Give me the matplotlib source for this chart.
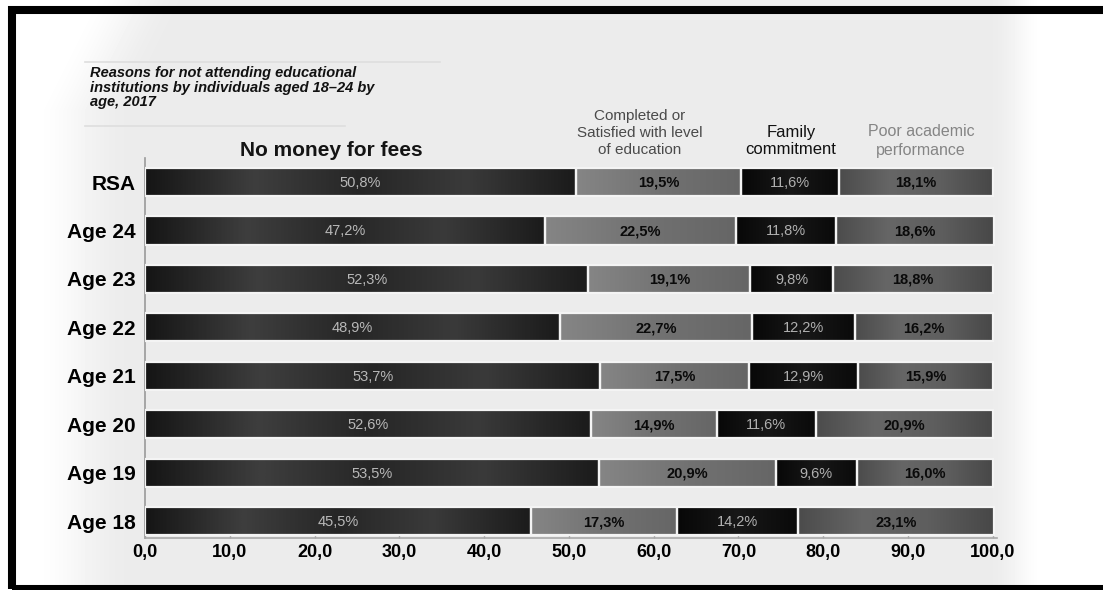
import numpy as np
import matplotlib.pyplot as plt
from matplotlib.patches import Rectangle
from matplotlib.colors import LinearSegmentedColormap

# Reasons for not attending educational institutions, share of 18-24 year olds (%)
categories = ['RSA', 'Age 24', 'Age 23', 'Age 22', 'Age 21', 'Age 20', 'Age 19', 'Age 18']
no_money = [50.8, 47.2, 52.3, 48.9, 53.7, 52.6, 53.5, 45.5]
completed = [19.5, 22.5, 19.1, 22.7, 17.5, 14.9, 20.9, 17.3]
family = [11.6, 11.8, 9.8, 12.2, 12.9, 11.6, 9.6, 14.2]
poor_academic = [18.1, 18.6, 18.8, 16.2, 15.9, 20.9, 16.0, 23.1]
xticks = [0, 10, 20, 30, 40, 50, 60, 70, 80, 90, 100]

title = 'Reasons for not attending educational\ninstitutions by individuals aged 18\u201324 by\nage, 2017'

NARROW = ['Liberation Sans Narrow', 'Liberation Sans', 'DejaVu Sans']
plt.rcParams['font.family'] = ['Liberation Sans', 'DejaVu Sans']

# shading profile (left -> right), label colour and weight for each reason
styles = [
    dict(values=no_money, shade=['#161616', '#3e3e3e', '#262626', '#3a3a3a', '#1c1c1c'],
         tc='#b8b8b8', weight='normal'),
    dict(values=completed, shade=['#858585', '#727272', '#666666'],
         tc='#0a0a0a', weight='bold'),
    dict(values=family, shade=['#080808', '#181818', '#0a0a0a'],
         tc='#b0b0b0', weight='normal'),
    dict(values=poor_academic, shade=['#4c4c4c', '#666666', '#5e5e5e', '#484848'],
         tc='#0a0a0a', weight='bold'),
]


def pct(v):
    return f'{v:.1f}'.replace('.', ',') + '%'


fig = plt.figure(figsize=(11.03, 5.90), dpi=100)

# soft grey panel on white
W, H = 1103, 590
xx = np.arange(W) + 0.5
yy = np.arange(H) + 0.5
X, Y = np.meshgrid(xx, yy)


def smooth(t):
    t = np.clip(t, 0, 1)
    return t * t * (3 - 2 * t)


left_edge = 30 + np.clip(110 - Y, 0, None) * 0.5
mask = smooth((X - left_edge) / 100) * smooth((1045 - X) / 55)
bg = 1 - 0.075 * mask
bg_ax = fig.add_axes([0, 0, 1, 1], zorder=0)
bg_ax.imshow(bg, cmap='gray', vmin=0, vmax=1, extent=(0, 1, 0, 1), aspect='auto',
             interpolation='bilinear')
bg_ax.set_axis_off()

ax = fig.add_axes([145 / W, 1 - 538 / H, 852 / W, 380 / H], zorder=1)
ax.set_facecolor('none')

ypos = np.arange(len(categories))
left = np.zeros(len(categories))
bar_h = 0.58
for st in styles:
    vals = np.array(st['values'])
    bars = ax.barh(ypos, vals, left=left, height=bar_h, color=st['shade'][1],
                   edgecolor='#f4f4f4', linewidth=1.6, zorder=2)
    cmap = LinearSegmentedColormap.from_list('shade', st['shade'])
    grad = np.linspace(0, 1, 64).reshape(1, -1)
    for b, v in zip(bars, vals):
        x0, y0 = b.get_x(), b.get_y()
        im = ax.imshow(grad, cmap=cmap, aspect='auto', interpolation='bicubic',
                       extent=(x0, x0 + b.get_width(), y0 + b.get_height(), y0),
                       zorder=2.5)
        im.set_clip_path(b)
        ax.text(x0 + b.get_width() / 2, b.get_y() + b.get_height() / 2 + 0.02, pct(v),
                ha='center', va='center', fontsize=10.5, color=st['tc'],
                fontweight=st['weight'], family=NARROW, zorder=4)
        # thin light rim drawn on top of the gradient
        ax.add_patch(Rectangle((x0, y0), b.get_width(), b.get_height(), fill=False,
                               ec='#f4f4f4', lw=1.6, zorder=3))
    left += vals

ax.set_xlim(0, 100.5)
ax.set_ylim(7.35, -0.496)
ax.set_xticks(xticks)
ax.set_xticklabels([f'{t:.1f}'.replace('.', ',') for t in xticks],
                   fontsize=13, fontweight='bold')
ax.set_yticks(ypos)
ax.set_yticklabels(categories, fontsize=15, fontweight='bold')
ax.tick_params(axis='y', length=0, pad=7)
ax.tick_params(axis='x', direction='in', length=5, width=1, color='#a0a0a0', pad=4)
for side in ['top', 'right']:
    ax.spines[side].set_visible(False)
ax.spines['left'].set_color('#9a9a9a')
ax.spines['bottom'].set_color('#a8a8a8')
ax.spines['left'].set_linewidth(1.2)
ax.spines['bottom'].set_linewidth(1.2)

# header block
fig.text(90 / W, 1 - 66 / H, title, ha='left', va='top', fontsize=10.5,
         fontweight='bold', fontstyle='italic', linespacing=1.05, color='#111111')
for y_line, x_end in [(62, 440), (126, 345)]:
    fig.add_artist(plt.Line2D([85 / W, x_end / W], [1 - y_line / H, 1 - y_line / H],
                              color='#dedede', lw=1.2))
fig.text(331 / W, 1 - 150 / H, 'No money for fees', ha='center', va='center',
         fontsize=15, fontweight='bold', color='#141414')
fig.text(640 / W, 1 - 133 / H, 'Completed or\nSatisfied with level\nof education',
         ha='center', va='center', fontsize=11, color='#4a4a4a', linespacing=1.3)
fig.text(791 / W, 1 - 141 / H, 'Family\ncommitment', ha='center', va='center',
         fontsize=12, color='#111111', linespacing=1.25, family=NARROW)
fig.text(921 / W, 1 - 141 / H, 'Poor academic\nperformance', ha='center', va='center',
         fontsize=11.5, color='#858585', linespacing=1.25)

# black frame round the picture
fig.add_artist(Rectangle((11.5 / W, 1 / H), 1093.5 / W, 579.5 / H, fill=False,
                         ec='black', lw=5.8, transform=fig.transFigure))

fig.savefig('out.png', dpi=100)
